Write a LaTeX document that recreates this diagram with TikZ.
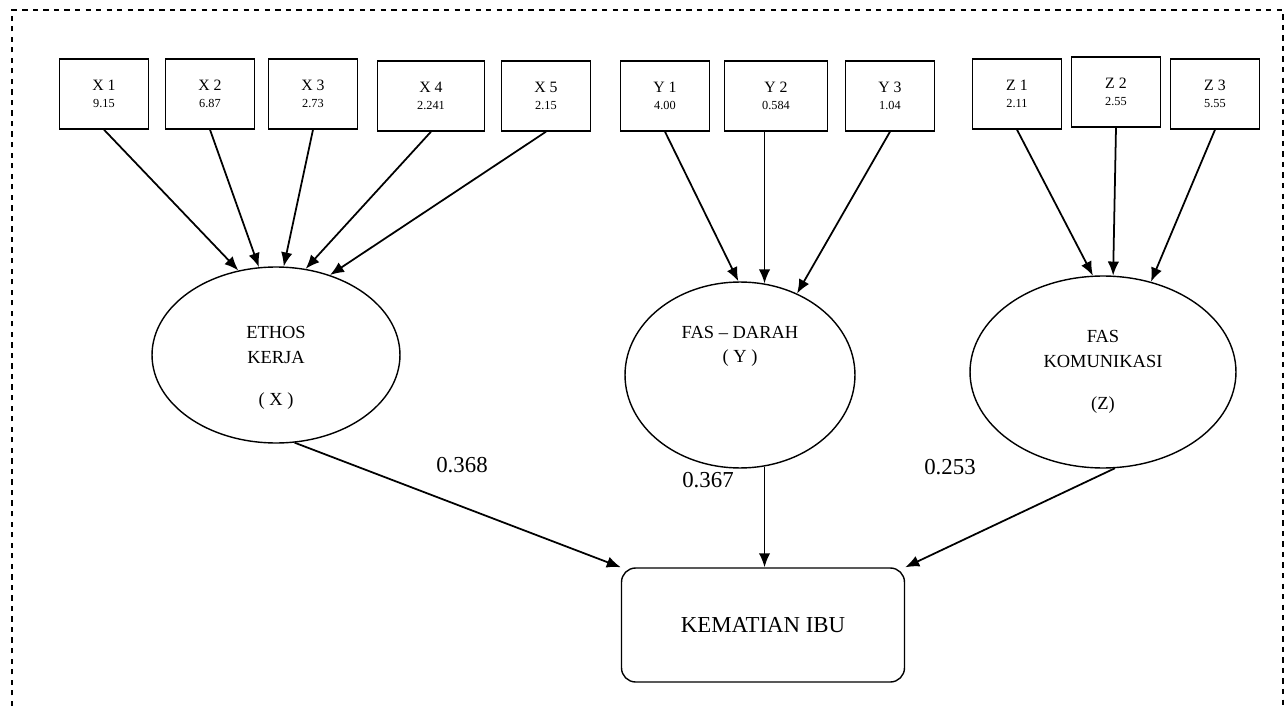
\documentclass[tikz,border=0pt]{standalone}
\usepackage{fontspec}
\setmainfont{Liberation Serif}
\usepackage{tikz}
\usetikzlibrary{shapes,positioning,arrows.meta}
\newcommand{\idxval}{\fontsize{7}{8}\selectfont}

\begin{document}
\begin{tikzpicture}[x = .02cm, y = -.02cm,
  ind/.style = {draw, thick, minimum width = 1.78cm, minimum height = 1.4cm, align = center, font = \fontsize{9}{10}\selectfont},
  lat/.style = {draw, thick, ellipse, inner sep = 0pt, align = center, font = \fontsize{10.5}{14}\selectfont},
  arr/.style = {-{Latex[length=8pt, width=6.5pt]}, line width = 1pt},
  coef/.style = {font = \fontsize{13}{15}\selectfont}]
\useasboundingbox (0,0) rectangle (1286,706);
\draw[dashed, thick] (12,706) -- (12,10) -- (1283,10) -- (1283,706);
\node[ind] (x1) at (104,94) {X 1\\{\idxval 9.15}};
\node[ind] (x2) at (210,94) {X 2\\{\idxval 6.87}};
\node[ind] (x3) at (313,94) {X 3\\{\idxval 2.73}};
\node[ind, minimum width = 2.15cm] (x4) at (431,96) {X 4\\{\idxval 2.241}};
\node[ind] (x5) at (546,96) {X 5\\{\idxval 2.15}};
\node[ind] (y1) at (665,96) {Y 1\\{\idxval 4.00}};
\node[ind, minimum width = 2.05cm] (y2) at (776,96) {Y 2\\{\idxval 0.584}};
\node[ind] (y3) at (890,96) {Y 3\\{\idxval 1.04}};
\node[ind] (z1) at (1017,94) {Z 1\\{\idxval 2.11}};
\node[ind] (z2) at (1116,92) {Z 2\\{\idxval 2.55}};
\node[ind] (z3) at (1215,94) {Z 3\\{\idxval 5.55}};
\node[lat, minimum width = 4.96cm, minimum height = 3.52cm] (ethos) at (276,355) {~\\[8pt]ETHOS\\KERJA\\[10pt]( X )};
\node[lat, minimum width = 4.6cm, minimum height = 3.72cm] (fasd) at (740,375) {FAS -- DARAH\\( Y )\\[21pt]~};
\node[lat, minimum width = 5.32cm, minimum height = 3.84cm] (fask) at (1103,372) {FAS\\KOMUNIKASI\\[10pt](Z)};
\node[draw, thick, rounded corners = 8pt, minimum width = 5.66cm, minimum height = 2.28cm, font = \fontsize{13}{15}\selectfont] (kem) at (763,625) {KEMATIAN IBU};
\draw[arr] (x1.south) -- (ethos.114);
\draw[arr] (x2.south) -- (ethos.101);
\draw[arr] (x3.south) -- (ethos.85);
\draw[arr] (x4.south) -- (ethos.71);
\draw[arr] (x5.south) -- (ethos.56);
\draw[arr] (y1.south) -- (fasd.91);
\draw[arr] (fasd.75 |- y2.south) -- (fasd.75);
\draw[arr] (y3.south) -- (fasd.55);
\draw[arr] (z1.south) -- (fask.96);
\draw[arr] (z2.south) -- (fask.84);
\draw[arr] (z3.south) -- (fask.62);
\draw[arr] (ethos.-78) -- (kem.north west);
\draw[arr] (fasd.-75) -- (fasd.-75 |- kem.north);
\draw[arr] (fask.-83) -- (kem.north east);
\node[coef] (c1) at (462,465) {0.368};
\node[coef] (c2) at (708,480) {0.367};
\node[coef] (c3) at (950,467) {0.253};
\end{tikzpicture}
\end{document}
